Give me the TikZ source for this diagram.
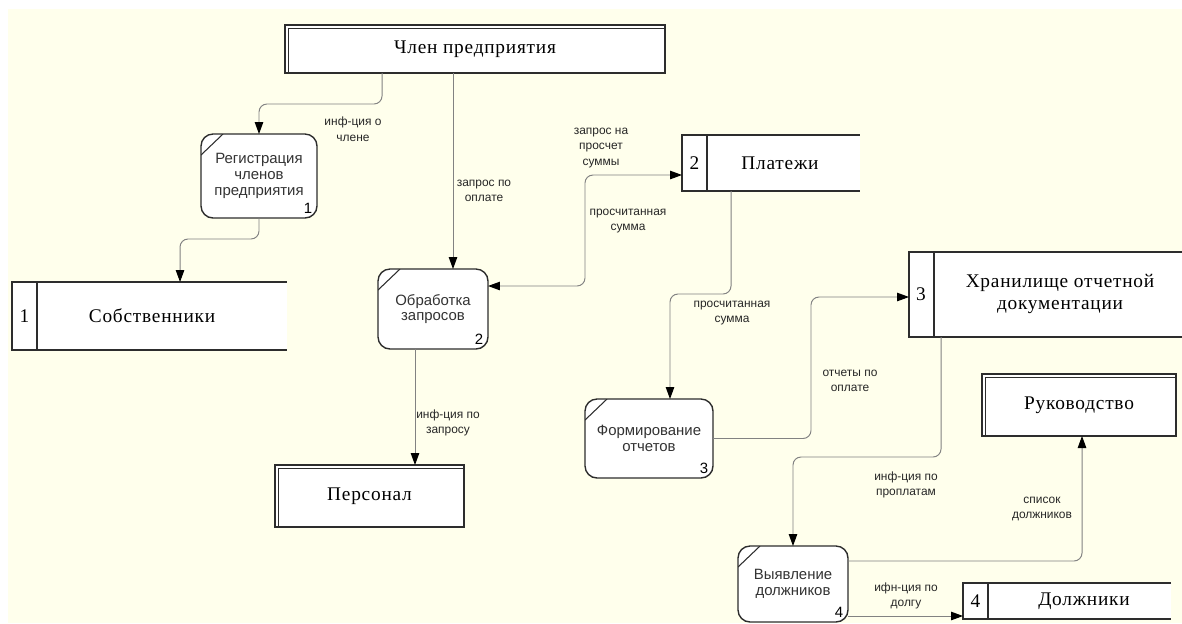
\documentclass[tikz,border=0pt]{standalone}
\usepackage{fontspec}
\setmainfont[LetterSpace=4]{Liberation Serif}
\setsansfont{Liberation Sans}
\usepackage{tikz}
\usetikzlibrary{
  arrows.meta,
  positioning,
  calc
}
\definecolor{bgyellow}{RGB}{255,255,236}
\definecolor{flowgray}{RGB}{130,130,130}
\definecolor{edgegray}{RGB}{45,45,45}

\begin{document}
\begin{tikzpicture}[
  x=0.02cm, y=-0.02cm,
  entity/.style={draw=edgegray, fill=white, line width=0.8pt, inner sep=0pt, outer sep=0pt, font=\fontsize{11}{13}\selectfont, align=center},
  process/.style={draw=edgegray, fill=white, line width=0.8pt, rounded corners=0.24cm, inner sep=0pt, outer sep=0pt, align=center, font=\sffamily\fontsize{8.5}{9}\selectfont, text=black!80,
    path picture={\draw[edgegray, line width=0.6pt] ($(path picture bounding box.north west)+(0,21)$) -- ($(path picture bounding box.north west)+(22,0)$);}},
  pnum/.style={anchor=south east, inner sep=2.5pt, font=\sffamily\fontsize{8.5}{9}\selectfont},
  store/.style={fill=white, inner sep=0pt, outer sep=0pt},
  storetext/.style={font=\fontsize{11}{13}\selectfont, align=center},
  boxline/.style={draw=edgegray, line width=0.8pt},
  flow/.style={draw=flowgray, line width=0.55pt, rounded corners=0.16cm, -{Triangle[length=0.24cm, width=0.17cm, color=black]}},
  flowboth/.style={flow, {Triangle[length=0.24cm, width=0.17cm, color=black]}-{Triangle[length=0.24cm, width=0.17cm, color=black]}},
  lbl/.style={font=\sffamily\fontsize{6.8}{8.9}\selectfont, text=black!85, align=center}
]
  \useasboundingbox (0,0) rectangle (1182,623);
  \fill[bgyellow] (8,9) rectangle (1182,623);

  % external entities
  \node[entity, minimum width=7.6cm, minimum height=0.96cm] (memb) at (475,49) {Член предприятия};
  \node[entity, minimum width=3.78cm, minimum height=1.24cm] (staff) at (369.5,496) {Персонал};
  \node[entity, minimum width=3.88cm, minimum height=1.24cm] (mgmt) at (1079,405) {Руководство};
  \foreach \e in {memb,staff,mgmt}
    \draw[boxline] ([xshift=0.07cm]\e.south west) |- ([yshift=-0.07cm]\e.north east);

  % processes
  \node[process, minimum width=2.32cm, minimum height=1.68cm] (reg) at (259,176) {Регистрация\\членов\\предприятия};
  \node[process, minimum width=2.2cm, minimum height=1.6cm] (req) at (433,309) {Обработка\\запросов};
  \node[process, minimum width=2.56cm, minimum height=1.58cm] (rep) at (649,438.5) {Формирование\\отчетов};
  \node[process, minimum width=2.2cm, minimum height=1.52cm] (debt) at (793,584) {Выявление\\должников};
  \node[pnum] (reg-n) at (reg.south east) {1};
  \node[pnum] (req-n) at (req.south east) {2};
  \node[pnum] (rep-n) at (rep.south east) {3};
  \node[pnum] (debt-n) at (debt.south east) {4};

  % data stores
  \node[store, minimum width=5.5cm, minimum height=1.36cm] (own) at (149.5,316) {};
  \node[store, minimum width=3.56cm, minimum height=1.12cm] (pay) at (771,163) {};
  \node[store, minimum width=5.52cm, minimum height=1.7cm] (arch) at (1047,294.5) {};
  \node[store, minimum width=4.16cm, minimum height=0.72cm] (debtors) at (1067,601) {};
  \foreach \s in {own,pay,arch,debtors} {
    \draw[boxline] (\s.north east) -- (\s.north west) -- (\s.south west) -- (\s.south east);
    \draw[boxline] ($(\s.north west)+(25,0)$) -- ($(\s.south west)+(25,0)$);
  }
  \node[storetext] (own-n) at ($(own.west)+(12.5,0)$) {1};
  \node[storetext] (pay-n) at ($(pay.west)+(12.5,0)$) {2};
  \node[storetext] (arch-n) at ($(arch.west)+(12,0)$) {3};
  \node[storetext] (debtors-n) at ($(debtors.west)+(12.5,0)$) {4};
  \node[storetext] (own-t) at (152,316) {Собственники};
  \node[storetext] (pay-t) at (780,163) {Платежи};
  \node[storetext] (arch-t) at (1060,294) {Хранилище отчетной\\документации};
  \node[storetext] (debtors-t) at (1084,601) {Должники};

  % flows
  \coordinate (reqin) at ($(req.north)+(20,0)$);
  \coordinate (reqout) at ($(req.south)+(-18,0)$);
  \coordinate (dout) at ($(debt.east)+(0,32)$);
  \draw[flow] ($(memb.south west)+(97,0)$) -- ++(0,31) -| (reg.north);
  \draw[flow] (reqin |- memb.south) -- (reqin);
  \draw[flow] (reg.south) -- ++(0,21) -| ($(own.north west)+(168,0)$);
  \draw[flowboth] ($(req.east)+(0,-23)$) -- ++(97,0) |- ($(pay.west)+(0,12)$);
  \draw[flow] (reqout) -- (reqout |- staff.north);
  \draw[flow] ($(pay.south west)+(49,0)$) -- ++(0,103) -| ($(rep.north)+(21,0)$);
  \draw[flow] (rep.east) -- ++(98,0) |- ($(arch.west)+(0,2.5)$);
  \draw[flow] ($(arch.south west)+(32,0)$) -- ++(0,120) -| (debt.north);
  \draw[flow] ($(debt.east)+(0,-23)$) -| ($(mgmt.south)+(3,0)$);
  \draw[flow] (dout) -- (dout -| debtors.west);

  % flow labels
  \node[lbl] (l-memb) at (353,129) {инф-ция о\\члене};
  \node[lbl] (l-pay) at (484,191) {запрос по\\оплате};
  \node[lbl] (l-calc) at (601,148) {запрос на\\просчет\\суммы};
  \node[lbl] (l-sum) at (628,221) {просчитанная\\сумма};
  \node[lbl] (l-ask) at (448,423) {инф-ция по\\запросу};
  \node[lbl] (l-sum2) at (732,313) {просчитанная\\сумма};
  \node[lbl] (l-rep) at (850,381) {отчеты по\\оплате};
  \node[lbl] (l-over) at (906,485) {инф-ция по\\проплатам};
  \node[lbl] (l-list) at (1042,509) {список\\должников};
  \node[lbl] (l-debt) at (906,596) {ифн-ция по\\долгу};
\end{tikzpicture}
\end{document}
